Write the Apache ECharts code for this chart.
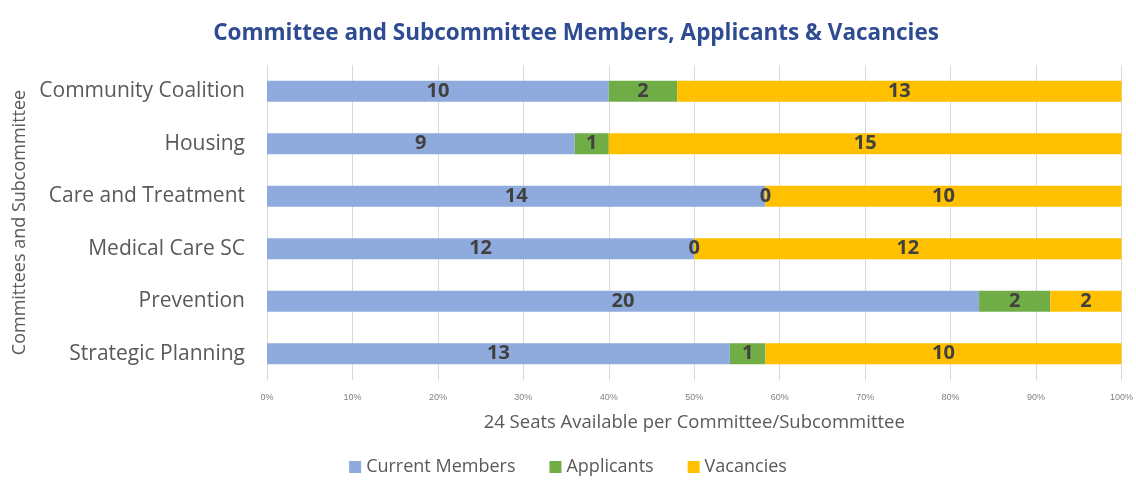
<!DOCTYPE html>
<html>
    <head>
        <meta charset="utf-8">
        <title>Committee and Subcommittee Members</title>
        <style>
            html, body { margin: 0; padding: 0; background: #fff; }
            #chart1 { width: 1136px; height: 483px; }
        </style>
    </head>
    <body>
        <div id="chart1"></div>
    </body>
    <script src="https://cdn.jsdelivr.net/npm/echarts@6/dist/echarts.min.js"></script>
    <script type="text/javascript">
        // categories bottom -> top (category axis draws the first one at the bottom)
        var committees = ['Strategic Planning', 'Prevention', 'Medical Care SC', 'Care and Treatment', 'Housing', 'Community Coalition'];
        var currentMembers = [13, 20, 12, 14, 9, 10];
        var applicants = [1, 2, 0, 0, 1, 2];
        var vacancies = [10, 2, 12, 10, 15, 13];
        var percentTicks = [0, 10, 20, 30, 40, 50, 60, 70, 80, 90, 100];

        var seriesNames = ['Current Members', 'Applicants', 'Vacancies'];
        var seriesColors = ['#8FAADC', '#70AD47', '#FFC000'];
        var raw = [currentMembers, applicants, vacancies];

        // 100% stacked: share of each row total
        var totals = committees.map(function (c, i) {
            return currentMembers[i] + applicants[i] + vacancies[i];
        });

        var series = raw.map(function (vals, s) {
            return {
                name: seriesNames[s],
                type: 'bar',
                stack: 'seats',
                barCategoryGap: '60%',
                itemStyle: { color: seriesColors[s] },
                label: {
                    show: true,
                    position: 'inside',
                    color: '#404040',
                    fontSize: 20,
                    fontWeight: 'bold',
                    fontFamily: 'Open Sans',
                    formatter: function (p) { return vals[p.dataIndex]; }
                },
                data: vals.map(function (v, i) { return v / totals[i] * 100; })
            };
        });

        var myChart1 = echarts.init(document.getElementById('chart1'));
        myChart1.setOption({
            animation: false,
            title: {
                text: 'Committee and Subcommittee Members, Applicants & Vacancies',
                left: 571,
                top: 17,
                textAlign: 'center',
                textStyle: {
                    color: '#2F4C93',
                    fontSize: 22.5,
                    fontWeight: 'bold',
                    fontFamily: 'Open Sans'
                }
            },
            legend: {
                data: seriesNames,
                bottom: 2,
                left: 'center',
                itemWidth: 12,
                itemHeight: 12,
                itemGap: 34,
                icon: 'rect',
                textStyle: { color: '#595959', fontSize: 18, fontFamily: 'Open Sans' }
            },
            grid: {
                left: 267,
                right: 11,
                top: 65,
                bottom: 103
            },
            xAxis: {
                type: 'value',
                min: percentTicks[0],
                max: percentTicks[percentTicks.length - 1],
                interval: 10,
                name: '24 Seats Available per Committee/Subcommittee',
                nameLocation: 'middle',
                nameGap: 33,
                nameTextStyle: { color: '#595959', fontSize: 18.5, fontFamily: 'Open Sans' },
                axisLine: { show: false },
                axisTick: { show: false },
                axisLabel: {
                    color: '#808080',
                    fontSize: 9,
                    margin: 13,
                    formatter: '{value}%'
                },
                splitLine: { lineStyle: { color: '#D9D9D9', width: 1 } }
            },
            yAxis: {
                type: 'category',
                data: committees,
                name: 'Committees and Subcommittee',
                nameLocation: 'middle',
                nameRotate: 90,
                nameGap: 236,
                nameTextStyle: { color: '#595959', fontSize: 18, fontFamily: 'Open Sans' },
                axisLine: { show: false },
                axisTick: { show: false },
                axisLabel: {
                    color: '#595959',
                    fontSize: 21,
                    margin: 22,
                    fontFamily: 'Open Sans'
                }
            },
            series: series
        });
    </script>
</html>
